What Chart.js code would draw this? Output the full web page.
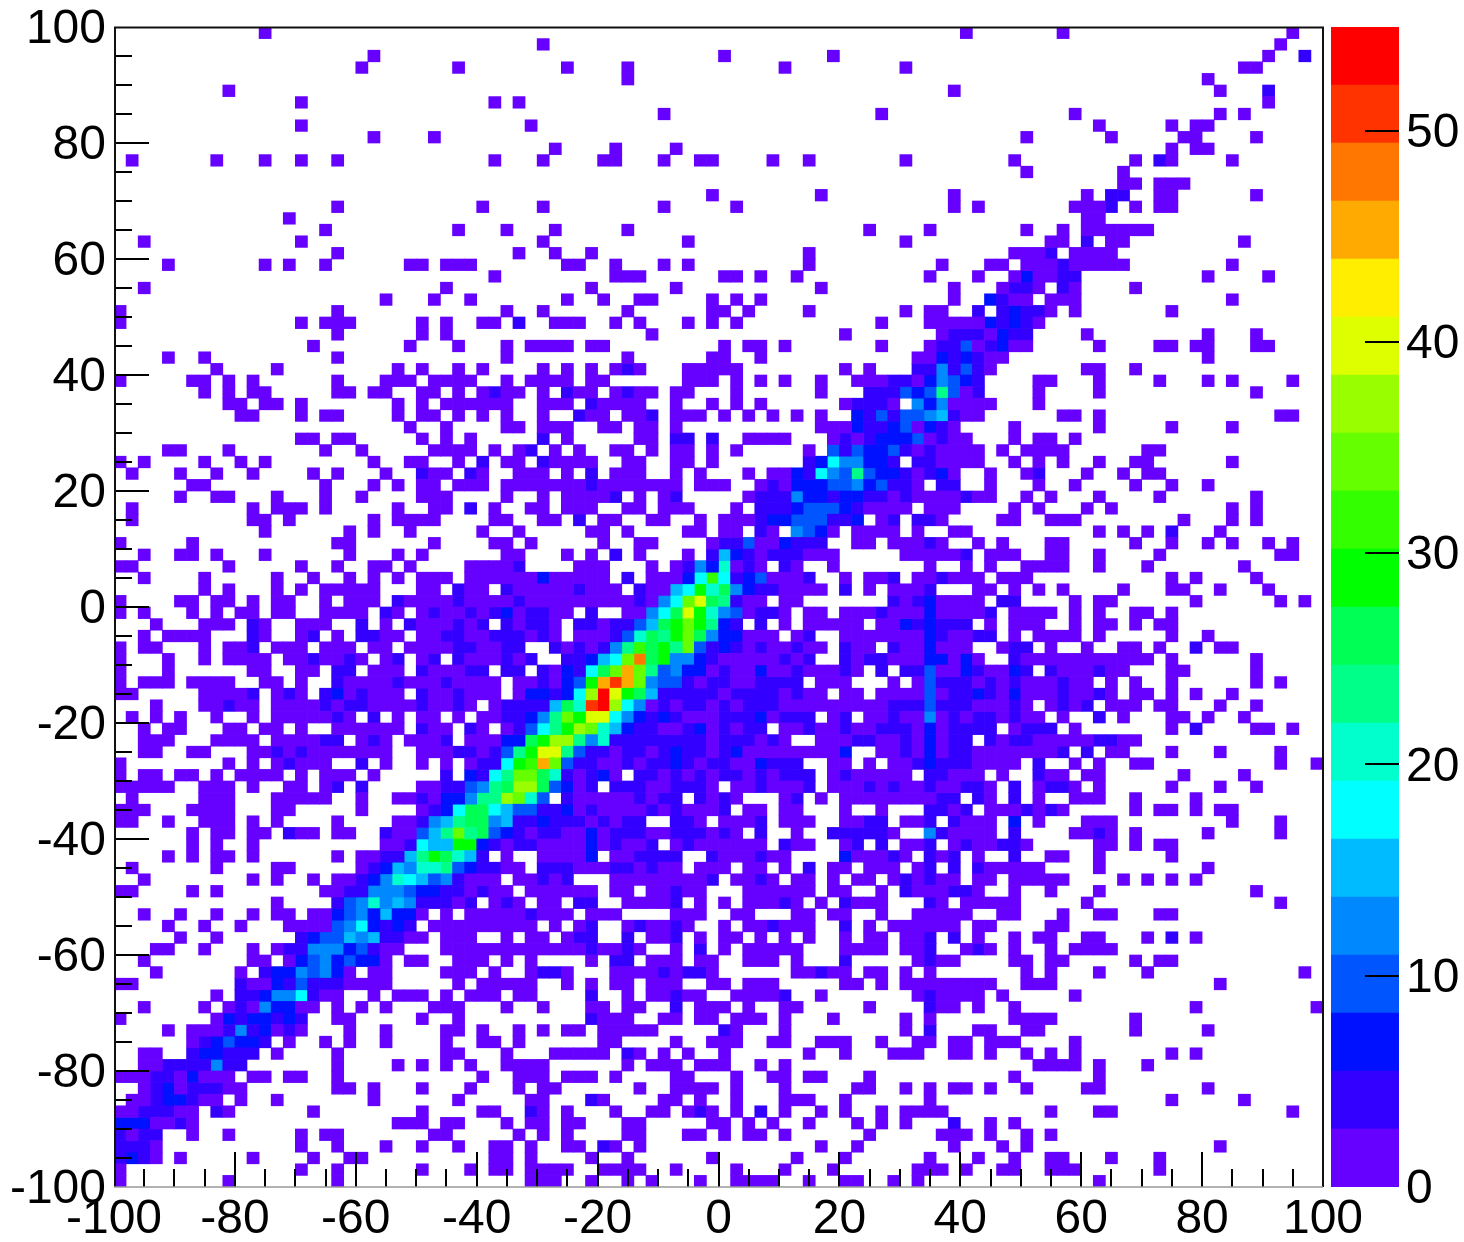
<!DOCTYPE html>
<html><head><meta charset="utf-8">
<style>html,body{margin:0;padding:0;background:#fff;overflow:hidden}canvas{position:absolute;top:0;display:block}#main{left:0}#bar{left:1331px}</style>
<script src="https://cdn.jsdelivr.net/npm/chart.js@4/dist/chart.umd.min.js"></script>
</head><body>
<canvas id="main" width="1464" height="1242"></canvas>
<canvas id="bar" width="133" height="1242"></canvas>
<script>
const xTickLabels=[-100,-80,-60,-40,-20,0,20,40,60,80,100];
const yTickLabels=[100,80,60,40,20,0,-20,-40,-60,-80,-100];
const zTickLabels=[0,10,20,30,40,50];
const zMax=54.9;
const levelColors=['#6600ff','#3300ff','#0011ff','#0055ff','#0088ff','#00bbff','#00ffff','#00ffcc','#00ff88','#00ff55','#00ff00','#33ff00','#66ff00','#99ff00','#ddff00','#ffee00','#ffaa00','#ff7700','#ff3300','#ff0000'];
// one entry per row, top to bottom: occupied columns "col" or "from-to", ":n" = colour level (default 0)
const binRows=[
"12 70 78 97",
"35 96",
"21 50 59 95 98:1",
"20 28 37 42 55 65 93-94",
"42 90",
"9 69 91 95:1",
"15 31 33 95",
"45 63 79 91 93",
"15 34 81 87 89-90",
"21 26 75 82 88-89 94",
"36 41 46 87 89-90",
"1 8 12 15 18 31 35 40-41 45 48-49 54 57 65 74 84 86:1 87 92",
"75 83",
"83-84 86-88",
"49 58 69 80 82-83:1 86-87 94",
"18 30 35 45 51 69 71 79-81 82:1 84 86-87",
"14 80-81",
"17 28 32 36 42 62 67 75 78 80-85",
"2 15 35 47 65 77-78 80:1 82-83 93",
"18 33 36 39 57 74 75-76 77:1 79-82",
"4 12 14 17 24 25 27-29 37-38 41 45 47 57 68 72-73 75-77 78:1 79-83 92",
"31 41-43 50-51 53 56 67 71 74 75:2 76-77 78-79:1 90 95",
"2 27 39 46 58 69 73 74:1 75:1 76 78:1 79 84",
"22 26 29 37 40 43-44 49 51 53 69 72:2 73:1 74 75 77-79 92",
"0 18 32 35 42 49-50 52 57 65 67-68 71:1 73:1 74:2 75-76:1 77 79 87",
"0 15 17-19 25 27 30-31 33:1 36-38 41 43 47 49 51 63 67-71 72:2 73:1 74:2 75:1 76",
"18 25 27 44 60 68 69-71:1 72 73:2 74:1 75:1 80 90 94",
"16 24 28 32 34-37 39-40 50 52-53 55 63 67 68-69:1 70:3 71 72:1 73:2 74 75 81 86-87 89-90 94-95",
"4 7 18 32 42 49-50 53 66-67 68:2 69:1 70:2 71:1 72-73 90",
"8 13 23 25 28 30 35 37 39 41 42:1 43 47-51 60 62 66-67:1 68:4 69:1 70:3 71:1 72 80-81 84",
"0 6-7 9 11 18 22-24 26-29 32 34-37 39-40 47-49 51 53 55 58 61-63 64-65:1 66 67:2 68:4 69:3 70:2 71:1 76-77 81 86 90 92 97",
"7 9 11-12 18-19 21-22 25-26 28 30 31:1 32-33 35 37:1 38-39 41 42:1 43-44 46-47 51 58 62-64:1 65:3 66:2 67:3 68:8 69:3 70 71:1 76 81 94",
"9-10 12-13 15 23 25 27-32 35-37 39:1 40-43 46 49 51 53 60 61-63:1 64 66:4 67:2 68:4 69-72 76",
"10-11 15 17-18 23 25-26 28 30 32 35 38:1 39-40 42-43 44:1 46-48 50 52 54 56 58 61:2 62:1 63:3 64:1 65-66:3 67:4 68:5 69:1 70-71 78-79 81 96-97",
"24 27 32-33 35-37 40-41 43-44 46 58-60 61:2 62-63:1 64:2 65:3 66 67:2 68:1 69 74 81 87 92",
"15-16 18-19 25 27 29 35:1 37 43-44 46-47:1 49:1 52-55 59 60:1 61 62:1 63-65:2 66:3 67 68:1 69-70 74 76-77 79",
"4-5 9 17 20 26-29 31 33 34:1 36 38 41-42 44 46-47 49 51 57 59:3 60:1 61:3 62-63:2 64:3 65:1 66 67:1 68-71 73 75-78 85-86",
"0 2 7 10 12 21 24 25 28 30:1 32-33 35:1 36-39 42-43 46-47 49 57:1 58:2 59:6 60-61:4 62-63:2 64:1 66-67:1 68-71 74 76 78 81 84-85 92",
"1 5 8 11 16 18 22 25:1 26-27 29:1 30 33-35 37 39:1 41-43 46 48 52 54-55 56:2 57:1 58:6 59:4 60:3 61:8 62:3 63-64:2 65:1 66 67:1 68:2 69 72 75 76:1 80 83 85-86",
"6-7 17 21 23 25-26 28-30 32-38 39:1 40-46 48-49 50 53 54:1 55 56-58:2 59-60:3 61:4 62:2 63:3 64-65:1 66 68-69:1 72 76 79 84 87 90",
"5 8-9 13 17 20 25-27 32 35 37-40 41:1 43 45 46:1 52 53-55:1 56:4 57-58:2 59:1 60-61:2 62-63:1 64 65:1 66-69 70:1 71-72 75 77 81 86 94",
"1 11 13-15 17 23 26-27 29:1 31 34-35 37-39 42-43 45-47 51 53-55:1 56:2 57-59:3 60:2 61:1 62-65 67-69 74 76 80 82 92 94",
"1 11-12 14 21 23-24 25-26 31-32 35-36 38:1 40-41 44-45 48 50-52 53:1 54-55:2 56-58:3 59-60:1 61:2 63 64:1 66-67:1 68 73-74 77-79 88 92 94",
"12 19 21 24 30 33 39-40 42 47-48 50-51 53:1 54 56:4 57:3 58:2 59 61-64 66 69-70 81 83 85 87:1 91",
"0 6 18-19 26 31-32 34 40 43-44 49 50-51:1 52:3 53-54 55:2 56-58:1 61-62 64-66 67:1 68 71 73 77-78 84 87 90 92 95 97",
"2 5-6 8 12 19 23 25 32-33 37 39 41:1 43 47 49:1 50:5 51:2 52:1 53 54-56:1 57-59 65-69 70:1 72-74 77-78 81 86 96-97",
"0-1 9 15 18 21-22 24 29-32 33:1 38-40 44 46 47:1 48:4 49:2 50:7 51 52:1 53 55:1 56 59 67 70 72 75-78 81 85 93",
"2 7 13 16 19 21 23 25-27 29-34 35:2 36-40 42:1 44-46 47:2 48:6 49:11 50:6 51:1 52:2 53:3 54-56 57:1 60 62-63 64:1 66-67 68:1 69-71 73-74 75 87 89 94",
"7 9 13 15 17-21 25-26 28:1 29-30 32:1 33-37 38:1 39-41 43:1 44-45 46:5 47:6 48:10 49:7 50:9 51:4 52:2 53-54:1 55-58 60:1 62 64-66 67:1 71-72 74 76 78 83 87-88 91 95",
"0 5-6 8-9 11 13-14 17 19-21 23:1 24 25-27 28:1 29-32 33:1 34-42 43:1 44 45:4 46:6 47:12 48:14 49:9 50:8 51:1 52-53 55-56 64:1 65 66:1 67:2 68-71 73-74:1 79 81-82 89 96 98",
"0 2 6 8 10-11 13-14 17-20 22:1 23 25 26:1 27-28 29:1 30 31:1 32:2 33 34-35:1 36-37 39:1 42-43 44:4 45:6 46:9 47:14 48:10 49:7 50:4 51:3 52 53-54:1 55 57-58 60-62 63:1 64-66 67:2 68-71 72:1 74 75-77 79 81 84-85 87",
"3 7-9 11:1 12 15-17 20:1 22 24:1 25-27 28:1 29 30:1 32:1 33 34-35:1 36 38-39:1 40 41-42:1 43:3 44:5 45:9 46:10 47:12 48:10 49:8 50:2 51:1 53:1 55 57-61 63-64 65:2 66:1 67:2 68-70:1 72 74 75-76 79 81-82 84 86-87",
"2 4-7 11:1 12 15 16:1 18 20-21:1 22-23 25-26 27-28:1 29-30 31-33:1 34 35:1 36 38-40 41:1 42:3 43:7 44:9 45:8 46:10 47:12 48:9 49:4 50-51:2 52-54 56 57:1 60-66 67:2 68:1 69-70 71-72:1 74 76-79 81 87 90",
"0 2-3 7 9-10 11:1 13-15 17-19 21-22 24 25-27 28-29:1 30-31 32-33:1 36:1 37 38:1 39 40:1 41:4 42:8 43:11 44:9 45:10 46:8 47:12 48:3 49:1 50:2 51:1 52 53:1 54-55 56:1 57-58 60:1 61-62 64:1 65-66 67:2 68-70 73 74:1 75:1 77 80 83-84 86 89:1 91-92",
"0 4 7 9-12 14-15 16:1 17-18 19:1 20 22 23:1 25 26:1 28:1 29-31 32:1 33 34:1 37-38:1 39:2 40:5 41:6 42:12 43:17 44:9 45:10 46-47:4 48:2 49:1 50-54 55:1 56 57:1 60:1 61 62-63:1 64-66 67-68:2 69 70:2 71 74:1 75-85 87 94",
"0 4 11-12 15-16 18-19:1 21-23 25:1 26-28 29-30:1 32-33:1 35:1 36 37:2 38:1 39:6 40:9 41:12 42:16 43:12 44:8 45:3 46:4 47-48:2 49 50:1 51-52 53:2 54-55 56:1 57-59 60:1 61 63:1 65-66:1 67:3 68-69 70:2 71:1 72-73 74:2 75:1 77:1 78-80 81:1 82-83 87-88 94",
"0 2-4 6-9 12-13 15 18:1 19-22 23:1 24 25-26 27:1 28-31 33-34 35:1 36 37:2 38:3 39:10 40:16 41:18 42:16 43:12 44:4 45-46:3 47:1 48 49:1 50:1 51-52 53-56:1 58-60 64 66 67:3 68-70:1 71 72:1 73 74:1 75-77 78:1 79-80 82 84 87 94 96",
"0-1 7-10 11:1 13 14:1 15 17:1 18:2 19 20:1 21-23 25:1 26-27 28:1 29-31 33 34-35:2 36:1 37:2 38:6 39:13 40:19 41:14 42:10 43:9 44:5 45-49:1 50 51-54:1 55 56:1 57-58 60-61 63-66 67:3 68 69-70:1 71:2 72:1 73 74:2 75-77 78:1 79-80 81:1 82 84-85 87 89 92",
"3 7-8 9:1 10-11 13-16 17:1 18 19-20:1 21-24 25:1 26-27 28:1 29 31 32-35:1 36:5 37:9 38:7 39:18 40:19 41:13 42:6 43:4 44 45:1 46 47-48:1 49 50:1 51 52-54:1 55-63 64-66:1 67:3 68-70:1 71-73 74:1 75 77 78:1 79 80:1 82-84 86-87 91 94",
"1 3 5 8 11 13-17 18:1 19 21:1 23 25-26 28 30-31 32-33:1 34:2 35:4 36:8 37:12 38:10 39-40:14 41:6 42:4 43:2 44:1 45:2 46:1 47-49 50-52:1 53:2 54 55-57:1 59 60:1 62-63 64:1 65-66 67:4 68 69:1 70 71-72:1 73 74:1 75-76 78 81:1 83 87-88 90 93",
"2 4-5 9-10 12-13 15 18-23 25:1 26-27 29:1 30 32 33:1 34:3 35:6 36:8 37:10 38:13 39:12 40:7 41:5 42:2 43-44:1 45-46 47:1 48:2 49 50:1 51 52-53:1 55-56 57:1 58-59 60:1 61-62 63-65:1 66 67:2 68 69-72:1 74 75-77:1 79 87 89:1 94-95 97",
"2-4 8-11 13-16 17-18:1 20 21:1 22 24 25-26 27:1 29-31 32-33:2 34:9 35:10 36-37:13 38:8 39:4 40:7 41-48:1 49 50-52:1 53 54:1 55 58-60 61-62:1 63-64 65:1 66 67:2 68 69-70:1 72:1 73 74:1 75:1 76-80 81-82:1 83-84",
"2-3 6-7 11-12 13:1 14 15:1 16-22 25-27 28-29:1 30 31:1 32:3 33:8 34:10 35-36:14 37:8 38:3 39-40:1 41 42-43:1 44 45:1 46:2 47-48:1 49 50:1 51:2 52-59 60:2 63-64 65:1 66 67:2 68 69-70:1 71-74 75-77 78:1 80:1 82-83 87 91 96",
"0 9 11 13 14:1 15-17 20:1 22 25 27 29 30-31:1 32:6 33:10 34:11 35:16 36:12 37:3 38-39:1 40-41 42:1 43 44-45:1 46:2 47:1 48 49:1 50:1 51-52 53:2 54-56:1 59-60 62 64-65 66:1 67:2 68-70:1 71-74 76:1 79 81 84-85 96 99",
"0 2-3 5-6 8 10-13 15 17-19 21 27:1 29:2 30:1 31:6 32:8 33-34:12 35:9 36:7 37:1 38 39:1 40:2 41 43-44:1 45 46:1 47 48:1 49 50-51:1 52 53:1 54 55-57:1 59 60:1 61-65 67-68:1 69-71 73 76:1 77-78 80-81 88 93",
"0-4 7-9 11 14-15 17 18:1 20:1 25-26 27-28:1 29:3 30:4 31:8 32:9 33-34:13 35:9 36:3 37:2 38 39:1 41-43:1 44-45 46-48:1 49 51-52 53:1 54-56 57:1 59-61 62:1 63 64:1 65-66 67:1 68-69 70-71:1 72 74:1 76 77-78:1 79 81 87 91 94",
"1 7-9 13-17 20 23-24 25:1 26 27-28:2 29:4 30-31:8 32:13 33:12 34:7 35:3 37:1 38-42 43:1 44 45-46:1 48:1 49 50:1 51 55 56:1 58 60-67 68-69:1 71:1 72 74:1 76 79-81 84 89",
"0-2 6-9 13-14 20 25 26:1 27:2 28:6 29-30:9 31:6 32:5 33-34:3 35-36:1 37:2 38 39:1 40-43 44:1 45 46:1 47-49 50:1 52-53 55-56 60 63 67-68:1 69 70:1 72-74 75:1 76 77:1 78 84 86-87 89 91-92",
"0-1 4 7-9 11 13 18 23-24 25:1 26:4 27:5 28:8 29-30:9 31:4 32:5 33-34:1 35:2 36-38:1 39 40:1 41 42-43:1 46-47:1 48 50-52 53:1 55-57 60-61 62-63:1 65-66 67:1 69:1 70-72 74:2 76 80-82 92 96",
"6 8-9 11-12 14:1 15-16 18-19 22:1 23-24 25:3 26:5 27:8 28:12 29:8 30:9 31:3 32:2 33:1 34 35-36:1 37-38 39:2 40 41-43:1 44-45 46-48:1 49 50:1 51 53:1 56 59-63:1 64 67:4 68:1 69-72 74:1 79-80 81:1 82 84 90 96",
"6 8 11 22-23 24:1 25:6 26-27:5 28-29:10 30:2 31:1 32 33-34:1 35-38 39:2 40 41:1 42-43 44:1 46 47:1 48-49 50-53 55:1 56-57 60 61:1 63:1 65-66 67:1 69 70:1 71-72 73-74:1 75 81-82 84 86-87",
"4 6 8-9 11 18 20-21 22-23:1 24:5 25:8 26:10 27:9 28:7 29:5 30:1 32 35-38 39:2 41-42 43-46:1 49:1 50-52 53:1 54-55 60:2 61-63 64:1 65 67:1 68 69:1 71 74:1 77-78 81 87",
"1 8 13-14 20 21:1 22:2 23:5 24:4 25-26:7 27:8 28:3 29:2 30-31:1 32-33 35-37:1 38-40 41-42:1 43 44:1 45-46 48-49 50 52-53 55 57:1 59-60 62-64 66 67:1 69:1 71:1 72-74 75-76 81 90",
"2 11 13 16 18-19 20:1 21:2 22:4 23:7 24:6 25:5 26:3 27:4 28:1 29-31 33-34 35:1 36 37:1 41-48 49:1 51-52 53:1 54 56-57 59 61-62 64 65:1 66 67:1 68-69 71-72 74 75-78 83 85 87 89",
"0-1 6 8 17-18 19-20:1 21-23:4 24:3 25-26:2 27-28:1 29 30:1 31-32 34-39 41-42 44-45 46:1 47-48 52-57 59-60 63 65:1 66-68 69-70:1 71 74 77 81 94",
"13 18:1 19:3 20:4 21:7 22:4 23:5 24:4 25-27:1 28 29:1 31 32:1 33 35-36 38-39:1 42-45 46:1 48 50 52-54 55:1 56 58 60:1 61-63 67:1 68 70-74 80 96",
"2 5 8 11 13-14 16-17 18:2 19:3 20:4 21:2 22:5 23-24:2 25 27 29-33 34:1 35-37 39-41 46-48 51-52 56-57 59-60 63 66-70 73-74 78 81-82 86-87",
"4 7 10 14-17 18:3 19:4 20:6 21:2 22:1 23:2 24:1 26-34 36 38 39:1 42 43:1 44-45 46:1 47 50 52-53 54:1 55-57 60:1 62 64-69 71-72 77-78",
"5 8 15:1 16:2 17-18:3 19:5 20:4 21:5 22-23:1 24 25 27-29 32 34-35 37 38-39:1 42:1 44-45 46:1 48 50-51 53 55 57 60 62-63 65-66 67:1 69:1 71 74 76-77 80-81 85 87:1 89",
"3-4 7 11 13 14-15:1 16-18:4 19:2 20:3 21:1 22-23 27-38 39:1 40-41 42:1 43 46 48:1 50 52-56 60-63 65-66 67:1 70 71:1 72 74 77 79-82",
"2 11-12 14 15:2 16:3 17:4 18:2 19:3 20-21:2 22 24 25 28-30 32 34 39 41-42:1 44-46 48-49 52-54 56 60:1 66 67:1 68-69 74 75 77-78 84 86-87",
"3 10 12:1 13-14:2 15:4 16:3 17:4 18:2 19 21-22 27-29 31 34 35-36:1 37 41-44 45:1 46 47-48:1 49 56-57 58:1 59-60 62-63 65 67 75 77 81 85 98",
"0-1 10:1 11-12 13:2 14:1 15:3 16-18:1 19-22 28 30-34 37 39 41-42 44-46 49 50 52-54 60-61 63 65-72 75-77 91",
"8 10-11:1 12:2 13-14:4 15:6 16:1 17-18 21 23-24 25 27 29-31 33-34 39:1 42 44-45 46:1 47-48 51-54 55:1 58 66 67:1 68-71 73 79",
"2 7 9 10:1 11 12:4 13-14:2 15-16 18 20 22 26-28 32 35 39-40 42-43 46:1 48-49 50 52 55-56 62 67:1 68-69 71 74 89 99",
"0 8 9:2 10:1 11-12:2 13:1 14:2 15:1 18-19 25 28 39:1 40-42 45-46 48-49 51-53 55 59 65 67 74 75-77 84",
"4 6-8 9:1 10:4 11:1 12:2 13 14:1 15 19 22 27-28 30 33 35 37-38 40-44 50:1 51 55 65 67:1 71-72 75-76 84 90",
"6 7:1 8:2 9:3 10-11:2 12:1 14 17 19 22 27 30-31 33 40-41 46 49 50-51 54-55 58-60 63 66-67 69-70 72-74 79",
"2-3 6:1 7-8:2 9-11:1 13 18 27-28 32 36-40 42:1 43 45 47 50 57 60 64-66 69-70 72 75 77 79 87 89",
"2-3 4-7:1 8:4 9-10:1 18 23 25 27 29 32-35 42 44-46 48-49 50 53 55 76-79 81 85",
"0-2 3-4:1 5 6:2 7-9 11-12 14-15 18 30 33-35 37-39 41 46-47 51 54-55 57-58 62 74 81",
"2 3:1 4:2 5 6-8:1 9-10 18-19 21 25 29 33 35-36 43 46-49 51 55 61-62 65 67 69-70 72 75 80-81 90",
"1-2 3:1 4-5:2 6:1 7-8 10 13 21 28 34-35 39:1 40 45-46 48 51 55-57 60 67 87 93",
"0-1 2-4:1 5-6 8:1 9 16 25 30-31 34:1 35 37 41 44-45 47 48:1 49 51 53:1 55 58 60 63 65-68 77 81-82 97",
"0-2:2 3-4 5:1 6 23-24 25 27-28 32 34-35 37-38 42-43 49 50 52 54 57 61 63 65 69:1 72 74",
"0:1 1 2-3:1 6 9 15 17-18 26-27 33 35 37 42-43 47-48 50 52-53 55 62 68-70 72 75 77",
"0-2:1 3 15 18 22 25 28 31-32 34 37-38 40:1 41 43 58 61 69 73 75 91",
"0:1 1:2 2:1 3 5 11 16 19-20 31-32 34 39 42 49 56 60 67 71 74 77-78 82 86",
"0 15 18 25 29 31-32 34-37 40-43 46 51 55 59 66-68 70 73-74 77-79 86",
"0 9 18 34-36 39 42 44 48 51-54 57 60-61 64 66 81"
];
const binWidth=2, axisMin=-100, axisMax=100;
const FONT={family:'"Liberation Sans",Arial,sans-serif',size:48};

const perLevel=levelColors.map(()=>[]);
binRows.forEach((row,r)=>{
  const top=axisMax-r*binWidth;
  row.split(' ').forEach(tok=>{
    const [span,lv]=tok.split(':');
    const [a,b]=span.split('-').map(Number);
    const end=b===undefined?a:b;
    for(let c=a;c<=end;c++){
      perLevel[lv?+lv:0].push({x:axisMin+(c+0.5)*binWidth,y:[top-binWidth,top]});
    }
  });
});
function noPad(s){s.paddingLeft=0;s.paddingRight=0;s.paddingTop=0;s.paddingBottom=0;}

const ticksPlugin={id:'rootTicks',afterDatasetsDraw(ch){
  const {ctx,chartArea:a,scales:{x,y}}=ch;
  ctx.save();ctx.strokeStyle='#000';ctx.lineWidth=2;
  for(let v=axisMin;v<=axisMax;v+=5){
    const len=v%20===0?35:18;
    const px=Math.round(x.getPixelForValue(v)),py=Math.round(y.getPixelForValue(v));
    if(v>axisMin&&v<axisMax){
      ctx.beginPath();ctx.moveTo(px,a.bottom);ctx.lineTo(px,a.bottom-len);ctx.stroke();
      ctx.beginPath();ctx.moveTo(a.left,py);ctx.lineTo(a.left+len,py);ctx.stroke();
    }
  }
  ctx.strokeStyle='#111';
  ctx.beginPath();ctx.moveTo(a.left+1,a.bottom);ctx.lineTo(a.left+1,a.top+0.5);ctx.lineTo(a.right,a.top+0.5);ctx.lineTo(a.right,a.bottom);ctx.stroke();
  ctx.strokeStyle='#999';ctx.lineWidth=1.5;
  ctx.beginPath();ctx.moveTo(a.left,a.bottom);ctx.lineTo(a.right,a.bottom);ctx.stroke();
  ctx.restore();
}};

new Chart(document.getElementById('main'),{
  type:'bar',
  data:{datasets:perLevel.map((d,i)=>({data:d,backgroundColor:levelColors[i],borderWidth:0,grouped:false,barPercentage:1,categoryPercentage:1}))},
  options:{
    responsive:false,animation:false,events:[],
    layout:{padding:{top:27,right:141,left:0,bottom:0}},
    plugins:{legend:{display:false},tooltip:{enabled:false}},
    scales:{
      x:{type:'linear',min:axisMin,max:axisMax,offset:false,grid:{display:false,drawTicks:false},border:{display:false},
        afterFit(s){s.height=55;noPad(s)},
        afterBuildTicks(s){s.ticks=xTickLabels.map(v=>({value:v}))},
        ticks:{font:FONT,color:'#000',padding:4,maxRotation:0,autoSkip:false,callback:v=>String(v)}},
      y:{type:'linear',min:axisMin,max:axisMax,grid:{display:false,drawTicks:false},border:{display:false},
        afterFit(s){s.width=114;noPad(s)},
        afterBuildTicks(s){s.ticks=yTickLabels.map(v=>({value:v}))},
        ticks:{font:FONT,color:'#000',padding:8,labelOffset:3,autoSkip:false,callback:v=>String(v)}}
    }
  },
  plugins:[ticksPlugin]
});

const barTicks={id:'zTicks',afterDatasetsDraw(ch){
  const {ctx,chartArea:a,scales:{y}}=ch;
  ctx.save();ctx.strokeStyle='#000';ctx.lineWidth=2;
  zTickLabels.forEach(v=>{const p=Math.round(y.getPixelForValue(v));
    if(v>0){ctx.beginPath();ctx.moveTo(a.right,p);ctx.lineTo(a.right-34,p);ctx.stroke();}});
  ctx.restore();
}};
const step=zMax/levelColors.length;
new Chart(document.getElementById('bar'),{
  type:'bar',
  data:{labels:['z'],datasets:levelColors.map((c,i)=>({data:[[i*step,(i+1)*step]],backgroundColor:c,borderWidth:0,grouped:false,barPercentage:1,categoryPercentage:1}))},
  options:{
    responsive:false,animation:false,events:[],
    layout:{padding:{top:27,left:0,right:0,bottom:0}},
    plugins:{legend:{display:false},tooltip:{enabled:false}},
    scales:{
      x:{display:true,grid:{display:false,drawTicks:false},border:{display:false},afterFit(s){s.height=55;noPad(s)},ticks:{display:false}},
      y:{position:'right',min:0,max:zMax,grid:{display:false,drawTicks:false},border:{display:false},
        afterFit(s){s.width=65;noPad(s)},
        afterBuildTicks(s){s.ticks=zTickLabels.map(v=>({value:v}))},
        ticks:{font:FONT,color:'#000',padding:7,labelOffset:3,autoSkip:false,callback:v=>String(v)}}
    }
  },
  plugins:[barTicks]
});
</script>
</body></html>
